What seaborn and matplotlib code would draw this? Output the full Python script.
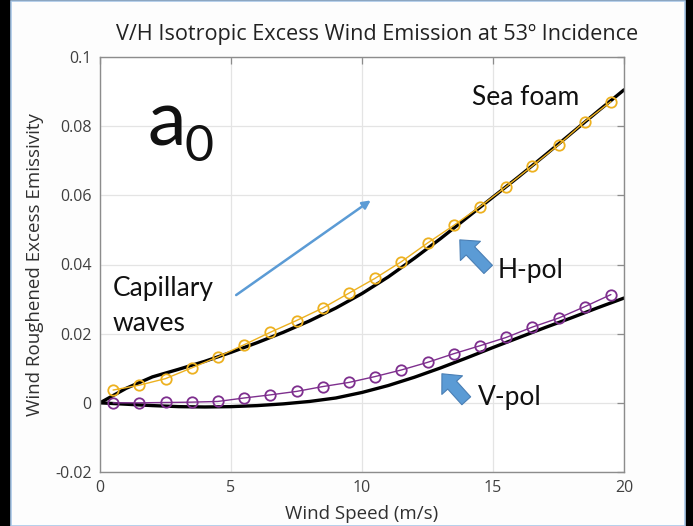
import numpy as np
import pandas as pd
import matplotlib
matplotlib.use("Agg")
import matplotlib.pyplot as plt
from matplotlib.patches import Rectangle, FancyArrowPatch
import seaborn as sns

# ---- data ----
wind_obs = [0.5, 1.5, 2.5, 3.5, 4.5, 5.5, 6.5, 7.5, 8.5, 9.5,
            10.5, 11.5, 12.5, 13.5, 14.5, 15.5, 16.5, 17.5, 18.5, 19.5]
h_obs = [0.0037, 0.0051, 0.0070, 0.0101, 0.0133, 0.0168, 0.0204, 0.0238, 0.0274, 0.0317,
         0.0360, 0.0408, 0.0462, 0.0513, 0.0567, 0.0625, 0.0685, 0.0746, 0.0813, 0.0871]
v_obs = [0.0000, 0.0000, 0.0001, 0.0002, 0.0004, 0.0014, 0.0023, 0.0033, 0.0047, 0.0059,
         0.0076, 0.0095, 0.0117, 0.0142, 0.0165, 0.0189, 0.0219, 0.0245, 0.0278, 0.0313]
wind_model = list(range(0, 21))
h_model = [0.0, 0.0042, 0.0075, 0.0097, 0.0120, 0.0146, 0.0174, 0.0204, 0.0237, 0.0274,
           0.0316, 0.0364, 0.0418, 0.0475, 0.0535, 0.0595, 0.0655, 0.0717, 0.0780, 0.0843, 0.0905]
v_model = [0.0, -0.0004, -0.0008, -0.0011, -0.0012, -0.0011, -0.0008, -0.0003, 0.0004, 0.0014,
           0.0030, 0.0050, 0.0074, 0.0101, 0.0130, 0.0160, 0.0189, 0.0218, 0.0246, 0.0275, 0.0303]

x_ticks = [0, 5, 10, 15, 20]
y_ticks = [-0.02, 0, 0.02, 0.04, 0.06, 0.08, 0.1]
y_tick_labels = ["-0.02", "0", "0.02", "0.04", "0.06", "0.08", "0.1"]

obs = pd.DataFrame({"wind": wind_obs, "H": h_obs, "V": v_obs})
model = pd.DataFrame({"wind": wind_model, "H": h_model, "V": v_model})

sns.set_theme(style="white")
plt.rcParams["font.family"] = ["Open Sans", "DejaVu Sans"]

W, H = 693, 526
fig = plt.figure(figsize=(W / 100, H / 100), dpi=100, facecolor="black")

# slide panel
fig.patches.append(Rectangle((11 / W, 0), (685 - 11) / W, 1.0 - 0.5 / H,
                             transform=fig.transFigure, facecolor="#fdfdfd",
                             edgecolor="#a9c8e8", linewidth=1.2, zorder=-5))

ax = fig.add_axes([100 / W, 1 - 472 / H, (624 - 100) / W, (472 - 57) / H])
ax.set_facecolor("white")

YEL = "#EDB120"
PUR = "#7E2F8E"

sns.lineplot(data=model, x="wind", y="H", ax=ax, color="black", linewidth=2.4, zorder=2)
sns.lineplot(data=model, x="wind", y="V", ax=ax, color="black", linewidth=2.4, zorder=2)
sns.lineplot(data=obs, x="wind", y="H", ax=ax, color=YEL, linewidth=1.0, marker="o",
             markersize=7.5, markerfacecolor="none", markeredgecolor=YEL,
             markeredgewidth=1.3, zorder=3)
sns.lineplot(data=obs, x="wind", y="V", ax=ax, color=PUR, linewidth=1.0, marker="o",
             markersize=7.5, markerfacecolor="none", markeredgecolor=PUR,
             markeredgewidth=1.3, zorder=3)

ax.set_xlim(0, 20)
ax.set_ylim(-0.02, 0.1)
ax.set_xticks(x_ticks)
ax.set_xticklabels([str(t) for t in x_ticks])
ax.set_yticks(y_ticks)
ax.set_yticklabels(y_tick_labels)
ax.grid(True, color="#e4e4e4", linewidth=0.9)
ax.set_axisbelow(True)
for s in ax.spines.values():
    s.set_color("#8c8c8c")
    s.set_linewidth(1.0)
ax.tick_params(direction="in", length=5, width=0.9, color="#8c8c8c",
               top=True, right=True, labelsize=11.5, labelcolor="#404040", pad=6)
ax.set_xlabel("Wind Speed (m/s)", fontsize=13.5, color="#303030", labelpad=6)
ax.set_ylabel("Wind Roughened Excess Emissivity", fontsize=13.5, color="#303030", labelpad=8)
ax.set_title("V/H Isotropic Excess Wind Emission at 53º Incidence",
             fontsize=15.6, color="#222222", pad=12, x=0.528)

def ftxt(px, py, s, size, **kw):
    fig.text(px / W, 1 - py / H, s, fontsize=size, family=["Lato", "DejaVu Sans"],
             color="#111111", va="baseline", ha="left", **kw)

ftxt(148, 145, "a", 56)
ftxt(185, 161, "0", 36)
ftxt(472, 105, "Sea foam", 19)
ftxt(113, 296, "Capillary", 19)
ftxt(113, 331, "waves", 19)
ftxt(498, 278, "H-pol", 19)
ftxt(478, 405, "V-pol", 19)

BLUE = "#5B9BD5"
ax.annotate("", xy=(10.42, 0.059), xytext=(5.11, 0.0307),
            arrowprops=dict(arrowstyle="-|>", color=BLUE, lw=1.8, mutation_scale=12))

for tip, tail in [((13.66, 0.0477), (14.89, 0.0380)), ((12.98, 0.0090), (14.05, 0.0))]:
    p = FancyArrowPatch(tail, tip, arrowstyle="simple,head_width=20,head_length=11,tail_width=8.5",
                        mutation_scale=1, facecolor=BLUE, edgecolor="#4a7fb5",
                        linewidth=0.8, zorder=5)
    ax.add_patch(p)

fig.savefig("out.png", dpi=100, facecolor=fig.get_facecolor())
